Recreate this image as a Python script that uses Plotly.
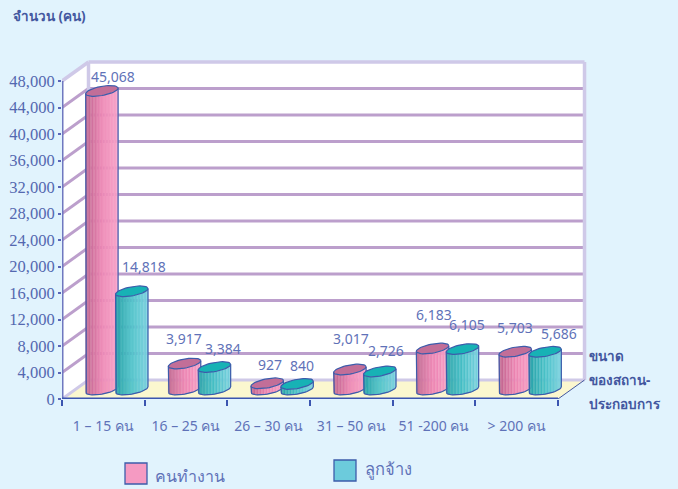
import math
import plotly.graph_objects as go

categories = ["1 – 15 คน", "16 – 25 คน", "26 – 30 คน", "31 – 50 คน", "51 -200 คน", "> 200 คน"]
employees_values = [45068, 3917, 927, 3017, 6183, 5703]
workers_values = [14818, 3384, 840, 2726, 6105, 5686]
y_ticks = list(range(0, 48001, 4000))
series_names = ["คนทำงาน", "ลูกจ้าง"]

W, H = 678, 489
L, R, T, B = 62, 590, 60, 399          # plot rectangle in page pixels
PX_X = 82.67                           # pixels per category
PX_Y = 318 / 48000                     # pixels per person
XMIN = -0.5
XMAX = XMIN + (R - L) / PX_X
YMAX = (B - T) / PX_Y
DX = 26.5 / PX_X                       # depth offset
DY = 19 / PX_Y
FRONT_R = len(categories) - 0.5

BG = "#e1f3fd"
FRAME = "#cfc9e8"
GRID = "#bc9fcc"
TEXT = "#5f72b8"
DARK = "#43579f"
OUT = "#3c5cab"

A = 16.2 / PX_X                        # cylinder half width
Bb = 4.6 / PX_Y                        # ellipse half height
S = 2.8 / PX_Y                         # ellipse tilt
OFF = [-14.7 / PX_X, 15.2 / PX_X]      # series offset in a category
N = 22


def arc(cx, y, ts):
    return [cx + A * math.cos(t) for t in ts], [y - Bb * math.sin(t) + S * math.cos(t) for t in ts]


def lerp(c0, c1, f):
    return "#%02x%02x%02x" % tuple(round(a + (b - a) * f) for a, b in zip(c0, c1))


def strip_color(kind, i):
    f = (i + 0.5) / N
    if kind == 0:
        left, mid, right = (190, 98, 140), (236, 132, 178), (248, 158, 198)
    else:
        left, mid, right = (36, 160, 166), (72, 192, 200), (120, 208, 222)
    col = lerp(left, mid, f / 0.5) if f < 0.5 else lerp(mid, right, (f - 0.5) / 0.5)
    if i % 2:
        col = lerp(tuple(int(col[j:j + 2], 16) for j in (1, 3, 5)), (255, 255, 255), 0.10)
    return col


fig = go.Figure()
series = [employees_values, workers_values]
tops = ["#c26e98", "#17b2b5"]
base = DY / 2

for k, vals in enumerate(series):
    xs_center = [i + DX / 2 + OFF[k] for i in range(len(categories))]
    for i in range(N):
        px, py = [], []
        t0 = math.acos(-(1 - 2 * i / N))
        t1 = math.acos(-(1 - 2 * (i + 1) / N))
        for cx, v in zip(xs_center, vals):
            top = v + DY / 2
            xa, ya = arc(cx, top, [t0, t1])
            xb, yb = arc(cx, base, [t1, t0])
            px += xa + xb + [xa[0], None]
            py += ya + yb + [ya[0], None]
        c = strip_color(k, i)
        fig.add_trace(go.Scatter(x=px, y=py, mode="lines", fill="toself", fillcolor=c,
                                 line=dict(color=c, width=0.4), hoverinfo="skip", showlegend=False,
                                 cliponaxis=False))
    tx, ty, ox, oy = [], [], [], []
    for cx, v in zip(xs_center, vals):
        top = v + DY / 2
        ts = [2 * math.pi * j / 48 for j in range(49)]
        ex, ey = arc(cx, top, ts)
        tx += ex + [None]
        ty += ey + [None]
        low = [math.pi - math.pi * j / 24 for j in range(25)]
        lx, ly = arc(cx, base, low)
        ox += [lx[0]] + lx + [lx[-1], None]
        oy += [top - S] + ly + [top + S, None]
    fig.add_trace(go.Scatter(x=ox, y=oy, mode="lines", line=dict(color=OUT, width=1.2),
                             hoverinfo="skip", showlegend=False, cliponaxis=False))
    fig.add_trace(go.Scatter(x=tx, y=ty, mode="lines", fill="toself", fillcolor=tops[k],
                             line=dict(color=OUT, width=1.2), hoverinfo="skip", showlegend=False,
                             cliponaxis=False))

# walls, floor, grid
shapes = []
def poly(pts, fill):
    p = "M " + " L ".join(f"{x},{y}" for x, y in pts) + " Z"
    shapes.append(dict(type="path", path=p, xref="x", yref="y", fillcolor=fill,
                       line=dict(width=0), layer="below"))
def seg(x0, y0, x1, y1, color, width):
    shapes.append(dict(type="line", x0=x0, y0=y0, x1=x1, y1=y1, xref="x", yref="y",
                       line=dict(color=color, width=width), layer="below"))

ytop = y_ticks[-1]
poly([(XMIN, 0), (XMIN, ytop), (XMIN + DX, ytop + DY), (XMIN + DX, DY)], "white")
poly([(XMIN + DX, DY), (XMIN + DX, ytop + DY), (FRONT_R + DX, ytop + DY), (FRONT_R + DX, DY)], "white")
poly([(XMIN, 0), (XMIN + DX, DY), (FRONT_R + DX, DY), (FRONT_R, 0)], "#fbf7cf")
for v in y_ticks[1:-1]:
    seg(XMIN, v, XMIN + DX, v + DY, GRID, 3)
    seg(XMIN + DX, v + DY, FRONT_R + DX, v + DY, GRID, 3)
seg(XMIN, 0, XMIN + DX, DY, FRAME, 3)
seg(XMIN + DX, DY, FRONT_R + DX, DY, FRAME, 3)
seg(XMIN, ytop, XMIN + DX, ytop + DY, FRAME, 3.5)
seg(XMIN + DX, DY, XMIN + DX, ytop + DY, FRAME, 3.5)
seg(XMIN + DX, ytop + DY, FRONT_R + DX, ytop + DY, FRAME, 3.5)
seg(FRONT_R + DX, DY, FRONT_R + DX, ytop + DY, FRAME, 3.5)
seg(FRONT_R, 0, FRONT_R + DX, DY, DARK, 1)
seg(XMIN, 0, XMIN, ytop, "#6f78c0", 3)
seg(XMIN, 0, FRONT_R, 0, "#3b55b0", 3)


def px_x(p):
    return (p - L) / (R - L)


def px_y(p):
    return (B - p) / (B - T)


annotations = []
def note(text, px, py, size, bold=False, color=TEXT, anchor="left", family="Noto Sans, DejaVu Sans, sans-serif"):
    annotations.append(dict(text=f"<b>{text}</b>" if bold else text, x=px_x(px), y=px_y(py), xref="paper", yref="paper",
                            xanchor=anchor, yanchor="middle", showarrow=False,
                            font=dict(size=size, color=color, family=family)))

label_shifts = [
    [(11, -14), (-1, -25), (3, -19), (1, -31), (1, -34), (0, -24)],
    [(12, -25), (9, -19), (5, -18), (6, -21), (5, -25), (14, -18)],
]
for k, vals in enumerate(series):
    for i, v in enumerate(vals):
        sx, sy = label_shifts[k][i]
        annotations.append(dict(text=f"{v:,}", x=i + DX / 2 + OFF[k], y=v + DY / 2, xref="x", yref="y",
                                xshift=sx, yshift=-sy, showarrow=False, xanchor="center", yanchor="middle",
                                font=dict(size=14, color=TEXT, family="Noto Sans, DejaVu Sans, sans-serif")))

note("จำนวน (คน)", 11, 16, 13.5, bold=True, color=DARK)
note("ขนาด", 587, 356, 13.5, bold=True, color=DARK)
note("ของสถาน-", 587, 380, 13.5, bold=True, color=DARK)
note("ประกอบการ", 587, 404, 13.5, bold=True, color=DARK)
note(series_names[0], 153, 476, 16)
note(series_names[1], 363, 468, 16.5)

for x0, y0, c in [(125, 463, "#f59ac2"), (334, 460, "#6ccbdc")]:
    shapes.append(dict(type="rect", xref="paper", yref="paper", x0=px_x(x0), x1=px_x(x0 + 22),
                       y0=px_y(y0 + 21), y1=px_y(y0), fillcolor=c, line=dict(color=OUT, width=1.3)))

fig.update_layout(
    width=W, height=H, autosize=False,
    margin=dict(l=L, r=W - R, t=T, b=H - B, pad=0, autoexpand=False),
    paper_bgcolor=BG, plot_bgcolor=BG, showlegend=False,
    shapes=shapes, annotations=annotations,
    xaxis=dict(range=[XMIN, XMAX], showgrid=False, zeroline=False, showline=False, fixedrange=True,
               automargin=False,
               tickmode="array", tickvals=list(range(len(categories))), ticktext=categories,
               ticks="", ticklabelstandoff=17,
               tickfont=dict(size=14, color=TEXT, family="Noto Sans, DejaVu Sans, sans-serif"),
               minor=dict(ticks="outside", tickvals=[i - 0.5 for i in range(len(categories) + 1)],
                          ticklen=6, tickwidth=2, tickcolor="#3b55b0", showgrid=False)),
    yaxis=dict(range=[0, YMAX], showgrid=False, zeroline=False, showline=False, fixedrange=True,
               automargin=False,
               tickmode="array", tickvals=y_ticks, ticktext=[f"{v:,}" for v in y_ticks],
               ticks="outside", ticklen=3, tickwidth=2, tickcolor="#5a66b8",
               tickfont=dict(size=16.5, color="#5468b0", family="'Liberation Serif', 'Times New Roman', Times, serif")),
)
fig.write_html("out.html", config=dict(displayModeBar=False),
               post_script="document.body.style.margin='0';document.documentElement.style.overflow='hidden';document.body.style.background='#e1f3fd';")
